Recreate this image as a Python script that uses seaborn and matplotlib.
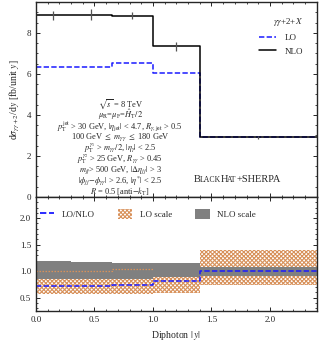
import matplotlib
matplotlib.use("Agg")
import matplotlib.pyplot as plt
import numpy as np
import pandas as pd
import seaborn as sns
from matplotlib.lines import Line2D
from matplotlib.patches import Patch
from matplotlib.ticker import MultipleLocator

# bin edges in diphoton |y|
edges = [0.0, 0.3, 0.65, 1.0, 1.4, 2.4]

# cross sections [fb/unit y]
nlo = [8.85, 8.88, 8.83, 7.35, 2.90]
nlo_err = [0.22, 0.27, 0.17, 0.22, 0.05]
lo = [6.35, 6.35, 6.55, 6.03, 2.90]

# ratio panel
ratio = [0.72, 0.72, 0.74, 0.82, 1.01]
lo_scale_lo = [0.57, 0.57, 0.57, 0.58, 0.74]
lo_scale_hi = [1.0, 1.0, 1.04, 1.08, 1.40]
nlo_scale_lo = [0.85, 0.85, 0.85, 0.88, 0.91]
nlo_scale_hi = [1.19, 1.18, 1.16, 1.15, 1.08]

cuts = [
    r"$\sqrt{s}$ = 8 TeV",
    r"$\mu_{\rm R}$=$\mu_{\rm F}$=$\hat{H}_{\rm T}/2$",
    r"$p_{\rm T}^{\rm jet}$ > 30 GeV, $|\eta_{\rm jet}|$ < 4.7, $R_{\gamma,{\rm jet}}$ > 0.5",
    r"100 GeV $\leq$ $m_{\gamma\gamma}$ $\leq$ 180 GeV",
    r"$p_{\rm T}^{\gamma_1}$ > $m_{\gamma\gamma}/2$, $|\eta_{\gamma}|$ < 2.5",
    r"$p_{\rm T}^{\gamma_2}$ > 25 GeV, $R_{\gamma\gamma}$ > 0.45",
    r"$m_{jj}$> 500 GeV, $|\Delta\eta_{jj}|$ > 3",
    r"$|\phi_{jj}$$-$$\phi_{\gamma\gamma}|$ > 2.6, $|\eta^{*}|$ < 2.5",
    r"$R$ = 0.5 [anti$-k_{\rm T}$]",
]

sns.set_theme(style="ticks")
plt.rcParams["font.family"] = ["Liberation Serif", "DejaVu Serif"]
plt.rcParams["mathtext.fontset"] = "stix"
plt.rcParams["hatch.linewidth"] = 0.8
plt.rcParams["axes.linewidth"] = 1.0

fig = plt.figure(figsize=(3.26, 3.45), dpi=100)
ax = fig.add_axes([0.110, 0.429, 0.862, 0.565])
axr = fig.add_axes([0.110, 0.099, 0.862, 0.330], sharex=ax)

hatch_col = "#d8915a"


def steps(values):
    return pd.DataFrame({"x": edges, "y": list(values) + [values[-1]]})


centers = [(a + b) / 2 for a, b in zip(edges[:-1], edges[1:])]

# top panel
sns.lineplot(data=steps(lo), x="x", y="y", ax=ax, drawstyle="steps-post",
             color="#1a1aff", lw=1.1, dashes=(3.5, 1.5), label="LO")
sns.lineplot(data=steps(nlo), x="x", y="y", ax=ax, drawstyle="steps-post",
             color="black", lw=1.1, label="NLO")
ax.errorbar(centers, nlo, yerr=nlo_err, fmt="none", ecolor="#555555", elinewidth=0.9)

ax.set_xlim(0, 2.4)
ax.set_ylim(0, 9.5)
ax.yaxis.set_major_locator(MultipleLocator(2))
ax.yaxis.set_minor_locator(MultipleLocator(0.5))
ax.set_ylabel(r"d$\sigma_{\gamma\gamma+2}$/d$y$ [fb/unit $y$]", fontsize=7, labelpad=3)
ax.set_xlabel("")
ax.tick_params(labelbottom=False)

leg = ax.legend(title=r"$\gamma\gamma$+2+$X$", loc="upper right", bbox_to_anchor=(0.98, 0.97),
                frameon=False, fontsize=6.5, title_fontsize=6.5, handlelength=1.8,
                handletextpad=1.0, labelspacing=0.6)
leg._legend_box.align = "right"

# cut summary, one line at a time for even spacing
for i, line in enumerate(cuts):
    ax.text(0.72, 4.52 - i * 0.535, line, fontsize=6.0, ha="center", va="center")

# small caps label
pieces = [("B", 7.5), ("LACK", 5.6), ("H", 7.5), ("AT", 5.6), ("+SHERPA", 7.5)]
t = ax.text(1.35, 0.62, pieces[0][0], fontsize=pieces[0][1], va="bottom", ha="left")
for s, fs in pieces[1:]:
    t = ax.annotate(s, xy=(1, 0), xycoords=t, xytext=(-0.5, 0), textcoords="offset points",
                    fontsize=fs, va="bottom", ha="left")

# ratio panel
axr.stairs(lo_scale_hi, edges, baseline=lo_scale_lo, fill=True, facecolor="white",
           edgecolor=hatch_col, hatch="xxxxxxxx", lw=0)
axr.stairs(nlo_scale_hi, edges, baseline=nlo_scale_lo, fill=True, color="#808080", lw=0)
axr.stairs(lo_scale_hi[:3], edges[:4], baseline=None, color=hatch_col, lw=0.9, ls=(0, (1.2, 1.2)))
sns.lineplot(data=steps(ratio), x="x", y="y", ax=axr, drawstyle="steps-post",
             color="#1a1aff", lw=1.1, dashes=(3.5, 1.5))

axr.set_ylim(0.25, 2.4)
axr.yaxis.set_major_locator(MultipleLocator(0.5))
axr.yaxis.set_minor_locator(MultipleLocator(0.1))
axr.xaxis.set_major_locator(MultipleLocator(0.5))
axr.xaxis.set_minor_locator(MultipleLocator(0.1))
axr.set_ylabel("")
axr.set_xlabel(r"Diphoton $|\,y|$", fontsize=7, labelpad=4)

handles = [
    Line2D([], [], color="#1a1aff", lw=1.3, dashes=(3.5, 1.5)),
    Patch(facecolor="white", edgecolor=hatch_col, hatch="xxxxxxxx", lw=0),
    Patch(facecolor="#808080", edgecolor="none"),
]
axr.legend(handles, ["LO/NLO", "LO scale", "NLO scale"], loc="upper left",
           bbox_to_anchor=(-0.015, 0.965), ncol=3, frameon=False, fontsize=6.5,
           handlelength=1.6, handleheight=1.3, columnspacing=2.6, handletextpad=0.8)

for a in (ax, axr):
    a.tick_params(which="both", direction="in", top=True, right=True, labelsize=6.5)
    a.tick_params(which="major", length=3, width=0.7)
    a.tick_params(which="minor", length=1.6, width=0.6)
    for sp in a.spines.values():
        sp.set_linewidth(1.0)

fig.savefig("out.png", dpi=100)
